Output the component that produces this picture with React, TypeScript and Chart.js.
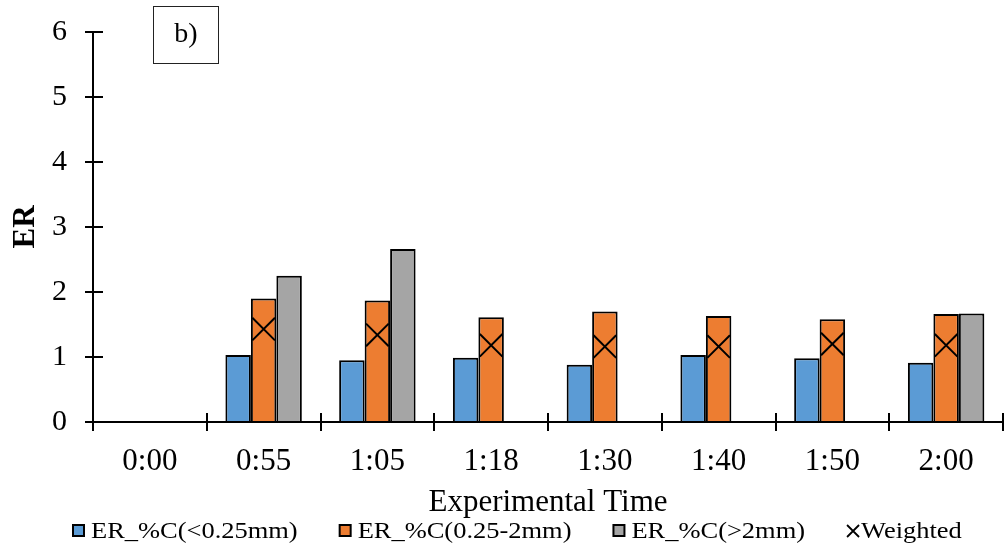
import React, { useEffect, useRef } from "react";
import { Chart, registerables } from "chart.js";

Chart.register(...registerables);

const categories = ["0:00", "0:55", "1:05", "1:18", "1:30", "1:40", "1:50", "2:00"];
const fineValues = [null, 1.03, 0.95, 0.99, 0.88, 1.03, 0.98, 0.91];
const midValues = [null, 1.9, 1.87, 1.61, 1.7, 1.63, 1.58, 1.66];
const coarseValues = [null, 2.25, 2.66, null, null, null, null, 1.67];
const weightedValues = [null, 1.43, 1.34, 1.18, 1.16, 1.16, 1.2, 1.18];
const seriesLabels = ["ER_%C(<0.25mm)", "ER_%C(0.25-2mm)", "ER_%C(>2mm)", "Weighted"];
const yTicks = [0, 1, 2, 3, 4, 5, 6];
const panelLabel = "b)";

const FONT = "'Liberation Serif', 'Times New Roman', serif";

const zeroPad = (s: any) => {
  s.paddingLeft = 0;
  s.paddingRight = 0;
  s.paddingTop = 0;
  s.paddingBottom = 0;
};

const decorPlugin = {
  id: "decor",
  afterDraw(chart: any) {
    const { ctx, chartArea, scales } = chart;
    const x = scales.x;
    const y = scales.y;
    ctx.save();
    ctx.strokeStyle = "#000";
    ctx.lineWidth = 2;
    // axes lines
    ctx.beginPath();
    ctx.moveTo(chartArea.left, y.getPixelForValue(yTicks[yTicks.length - 1]));
    ctx.lineTo(chartArea.left, y.getPixelForValue(0));
    ctx.moveTo(chartArea.left, y.getPixelForValue(0));
    ctx.lineTo(chartArea.right, y.getPixelForValue(0));
    ctx.stroke();
    // y cross ticks
    ctx.beginPath();
    for (const t of yTicks) {
      const py = Math.round(y.getPixelForValue(t));
      ctx.moveTo(chartArea.left - 8, py);
      ctx.lineTo(chartArea.left + 10, py);
    }
    // x cross ticks at category boundaries
    const p0 = x.getPixelForValue(0);
    const p1 = x.getPixelForValue(1);
    const w = p1 - p0;
    const by = y.getPixelForValue(0);
    for (let i = 0; i <= categories.length; i++) {
      const px = Math.round(p0 - w / 2 + i * w);
      ctx.moveTo(px, by - 9);
      ctx.lineTo(px, by + 9);
    }
    ctx.stroke();

    // panel label box
    ctx.lineWidth = 1;
    ctx.strokeStyle = "#222";
    ctx.strokeRect(153.5, 6.5, 65, 57);
    ctx.fillStyle = "#000";
    ctx.font = `28px ${FONT}`;
    ctx.textAlign = "center";
    ctx.textBaseline = "middle";
    ctx.fillText(panelLabel, 186, 35);

    // legend
    const ds = chart.data.datasets;
    ctx.font = `23px ${FONT}`;
    ctx.textAlign = "left";
    ctx.textBaseline = "alphabetic";
    const sx = 1.15;
    const ly = 531;
    let lx = 72;
    ds.forEach((d: any) => {
      if (d.type === "line") {
        ctx.strokeStyle = "#000";
        ctx.lineWidth = 1.8;
        ctx.beginPath();
        ctx.moveTo(lx + 1, ly - 6);
        ctx.lineTo(lx + 13, ly + 6);
        ctx.moveTo(lx + 13, ly - 6);
        ctx.lineTo(lx + 1, ly + 6);
        ctx.stroke();
      } else {
        ctx.fillStyle = d.backgroundColor;
        ctx.fillRect(lx + 1, ly - 6, 11, 11);
        ctx.strokeStyle = "#000";
        ctx.lineWidth = 2;
        ctx.strokeRect(lx + 1, ly - 6, 11, 11);
      }
      ctx.fillStyle = "#000";
      const tx = lx + (d.type === "line" ? 15 : 19);
      ctx.save();
      ctx.translate(tx, 538);
      ctx.scale(sx, 1);
      ctx.fillText(d.label, 0, 0);
      ctx.restore();
      const tw = ctx.measureText(d.label).width * sx;
      lx = tx + tw + 41;
    });
    ctx.restore();
  },
};

export default function App() {
  const ref = useRef<HTMLCanvasElement | null>(null);
  useEffect(() => {
    if (!ref.current) return;
    const chart = new Chart(ref.current, {
      type: "bar",
      data: {
        labels: categories,
        datasets: [
          {
            label: seriesLabels[0],
            data: fineValues,
            backgroundColor: "#5B9BD5",
            borderColor: "#000",
            borderWidth: 2,
            order: 1,
          },
          {
            label: seriesLabels[1],
            data: midValues,
            backgroundColor: "#ED7D31",
            borderColor: "#000",
            borderWidth: 2,
            order: 1,
          },
          {
            label: seriesLabels[2],
            data: coarseValues,
            backgroundColor: "#A5A5A5",
            borderColor: "#000",
            borderWidth: 2,
            order: 1,
          },
          {
            type: "line",
            label: seriesLabels[3],
            data: weightedValues,
            showLine: false,
            pointStyle: "crossRot",
            pointRadius: 16,
            pointBorderWidth: 2,
            borderColor: "#000",
            backgroundColor: "#000",
            order: 0,
          } as any,
        ],
      },
      options: {
        animation: false,
        responsive: false,
        devicePixelRatio: 1,
        layout: { autoPadding: false, padding: { left: 0, right: 2, top: 32, bottom: 30 } },
        datasets: {
          bar: { categoryPercentage: 0.672, barPercentage: 1 },
        },
        plugins: {
          legend: { display: false },
          tooltip: { enabled: false },
        },
        scales: {
          x: {
            type: "category",
            offset: true,
            grid: { display: false, drawTicks: false },
            border: { display: false },
            ticks: {
              color: "#000",
              padding: 21,
              font: { family: FONT, size: 31, lineHeight: 1.2 },
              maxRotation: 0,
              autoSkip: false,
            },
            title: {
              display: true,
              text: "Experimental Time",
              color: "#000",
              font: { family: FONT, size: 31, lineHeight: 1 },
              padding: { top: 0, bottom: 0 },
            },
            afterFit: (s: any) => {
              s.height = 96;
              zeroPad(s);
            },
          },
          y: {
            min: 0,
            max: 6,
            grid: { display: false, drawTicks: false },
            border: { display: false },
            ticks: {
              stepSize: 1,
              color: "#000",
              padding: 26,
              font: { family: FONT, size: 30 },
            },
            title: {
              display: true,
              text: "ER",
              color: "#000",
              font: { family: FONT, size: 31, weight: "bold", lineHeight: 1 },
              padding: { top: 10, bottom: 0 },
            },
            afterFit: (s: any) => {
              s.width = 93;
              zeroPad(s);
            },
          },
        },
      },
      plugins: [decorPlugin],
    });
    return () => chart.destroy();
  }, []);
  return (
    <div style={{ position: "absolute", left: 0, top: 0, width: 1005, height: 548 }}>
      <canvas ref={ref} width={1005} height={548} />
    </div>
  );
}
